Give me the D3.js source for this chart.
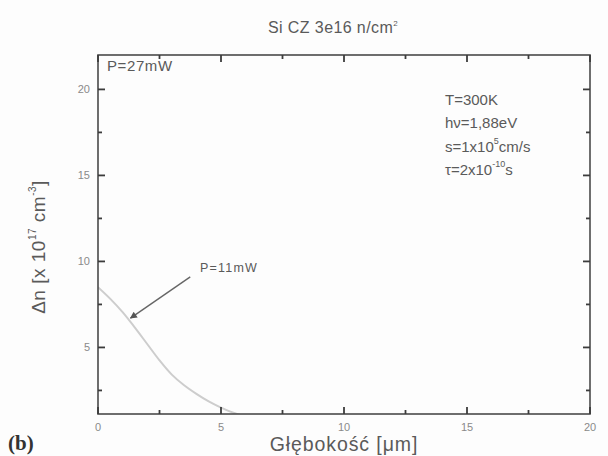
<!DOCTYPE html>
<html>
<head>
<meta charset="utf-8">
<script src="https://cdn.jsdelivr.net/npm/d3@7"></script>
<style>
  html, body { margin: 0; padding: 0; background: #fdfdfd; }
  svg { display: block; font-family: "Liberation Sans", Arial, sans-serif; }
</style>
</head>
<body>
<svg id="chart" width="608" height="456"></svg>
<script>
// Excess carrier profile vs depth, P = 11 mW
const depth = [0, 0.5, 1, 1.5, 2, 2.5, 3, 3.5, 4, 4.5, 5, 5.5, 6, 6.5, 7];
const dn11  = [8.5, 7.82, 7.05, 6.15, 5.2, 4.25, 3.42, 2.8, 2.3, 1.86, 1.5, 1.2, 0.98, 0.8, 0.66];

const xTicks = [0, 5, 10, 15, 20];
const yTicks = [5, 10, 15, 20];
const xMinor = [2.5, 7.5, 12.5, 17.5];
const yMinor = [2.5, 7.5, 12.5, 17.5];
const xDomain = [0, 20];
const yDomain = [1.13, 22];

// arrow annotation (data units): tail, tip
const arrowFrom = [3.75, 9.1];
const arrowTo   = [1.32, 6.7];

const paramLines = [
  ["T=300K"],
  ["hν=1,88eV"],
  ["s=1x10", "5", "cm/s"],
  ["τ=2x10", "-10", "s"]
];

const svg = d3.select("#chart");
const m = { left: 98, right: 590, top: 55, bottom: 414 };

const x = d3.scaleLinear().domain(xDomain).range([m.left, m.right]);
const y = d3.scaleLinear().domain(yDomain).range([m.bottom, m.top]);

const axisColor = "#4a4a4a";
const tickColor = "#3c3c3c";
const textColor = "#5a5a5a";

const defs = svg.append("defs");

// clip region for the data
defs.append("clipPath").attr("id", "plotClip")
  .append("rect").attr("x", m.left).attr("y", m.top)
  .attr("width", m.right - m.left).attr("height", m.bottom - m.top);

// curve
svg.append("path")
  .datum(depth.map((d, i) => [d, dn11[i]]))
  .attr("clip-path", "url(#plotClip)")
  .attr("fill", "none")
  .attr("stroke", "#cdcdcd")
  .attr("stroke-width", 2)
  .attr("d", d3.line().x(d => x(d[0])).y(d => y(d[1])).curve(d3.curveCatmullRom));

// frame
svg.append("rect")
  .attr("x", m.left).attr("y", m.top)
  .attr("width", m.right - m.left).attr("height", m.bottom - m.top)
  .attr("fill", "none").attr("stroke", axisColor).attr("stroke-width", 1.6);

// tick marks, pointing inward on all four sides
const tickG = svg.append("g");
function ticksX(vals, yPos, len) {
  tickG.append("g").selectAll("line").data(vals).enter().append("line")
    .attr("x1", d => x(d)).attr("x2", d => x(d))
    .attr("y1", yPos).attr("y2", yPos + len)
    .style("stroke", tickColor).style("stroke-width", "1.8px");
}
function ticksY(vals, xPos, len) {
  tickG.append("g").selectAll("line").data(vals).enter().append("line")
    .attr("y1", d => y(d)).attr("y2", d => y(d))
    .attr("x1", xPos).attr("x2", xPos + len)
    .style("stroke", tickColor).style("stroke-width", "1.8px");
}
ticksX(xTicks, m.bottom, -7);
ticksX(xMinor, m.bottom, -4);
ticksX(xTicks, m.top, 7);
ticksX(xMinor, m.top, 4);
ticksY(yTicks, m.left, 7);
ticksY(yMinor, m.left, 4);
ticksY(yTicks, m.right, -7);
ticksY(yMinor, m.right, -4);

// tick labels
svg.append("g").selectAll("text").data(xTicks).join("text")
  .attr("x", d => x(d)).attr("y", 431)
  .attr("text-anchor", "middle").attr("font-size", 11).attr("fill", "#8a8a8a")
  .text(d3.format("d"));
svg.append("g").selectAll("text").data(yTicks).join("text")
  .attr("x", 90).attr("y", d => y(d) + 4)
  .attr("text-anchor", "end").attr("font-size", 11).attr("fill", "#8a8a8a")
  .text(d3.format("d"));

// title
const title = svg.append("text").attr("x", 333).attr("y", 33)
  .attr("text-anchor", "middle").attr("font-size", 16).attr("letter-spacing", 0.4)
  .attr("fill", textColor);
title.append("tspan").text("Si CZ 3e16 n/cm");
title.append("tspan").attr("font-size", 8).attr("dy", -7).text("2");

// axis titles
svg.append("text")
  .attr("x", 344).attr("y", 451)
  .attr("text-anchor", "middle").attr("font-size", 19.5).attr("letter-spacing", 0.9)
  .attr("fill", textColor)
  .text("Głębokość [μm]");

const yl = svg.append("text")
  .attr("transform", "translate(45,247) rotate(-90)")
  .attr("text-anchor", "middle").attr("font-size", 19).attr("letter-spacing", 0.5)
  .attr("fill", textColor);
yl.append("tspan").text("Δn [x 10");
yl.append("tspan").attr("font-size", 10).attr("dy", -9).text("17");
yl.append("tspan").attr("dy", 9).text(" cm");
yl.append("tspan").attr("font-size", 10).attr("dy", -9).text("-3");
yl.append("tspan").attr("dy", 9).text("]");

// panel letter
svg.append("text").attr("x", 8).attr("y", 450)
  .attr("font-family", "'Liberation Serif', 'Times New Roman', serif")
  .attr("font-weight", "bold").attr("font-size", 21).attr("fill", "#333")
  .text("(b)");

// series labels
svg.append("text").attr("x", 107).attr("y", 71)
  .attr("font-size", 15).attr("fill", textColor).attr("letter-spacing", 0.6)
  .text("P=27mW");

svg.append("text").attr("x", 200).attr("y", 272)
  .attr("font-size", 12.5).attr("fill", textColor).attr("letter-spacing", 1.2)
  .text("P=11mW");

// arrow
defs.append("marker")
  .attr("id", "arrowHead").attr("viewBox", "0 0 10 10")
  .attr("refX", 9).attr("refY", 5)
  .attr("markerWidth", 9).attr("markerHeight", 7)
  .attr("markerUnits", "userSpaceOnUse")
  .attr("orient", "auto")
  .append("path").attr("d", "M0,0 L10,5 L0,10 z").attr("fill", "#555");

svg.append("line")
  .attr("x1", x(arrowFrom[0])).attr("y1", y(arrowFrom[1]))
  .attr("x2", x(arrowTo[0])).attr("y2", y(arrowTo[1]))
  .attr("stroke", "#666").attr("stroke-width", 1.4)
  .attr("marker-end", "url(#arrowHead)");

// parameter block
const pBase = [105, 128, 152, 175];
paramLines.forEach((parts, i) => {
  const t = svg.append("text").attr("x", 445).attr("y", pBase[i])
    .attr("font-size", 15).attr("fill", textColor);
  if (parts.length === 1) { t.text(parts[0]); return; }
  t.append("tspan").text(parts[0]);
  t.append("tspan").attr("font-size", 9).attr("dy", -8).text(parts[1]);
  t.append("tspan").attr("dy", 8).text(parts[2]);
});
</script>
</body>
</html>
